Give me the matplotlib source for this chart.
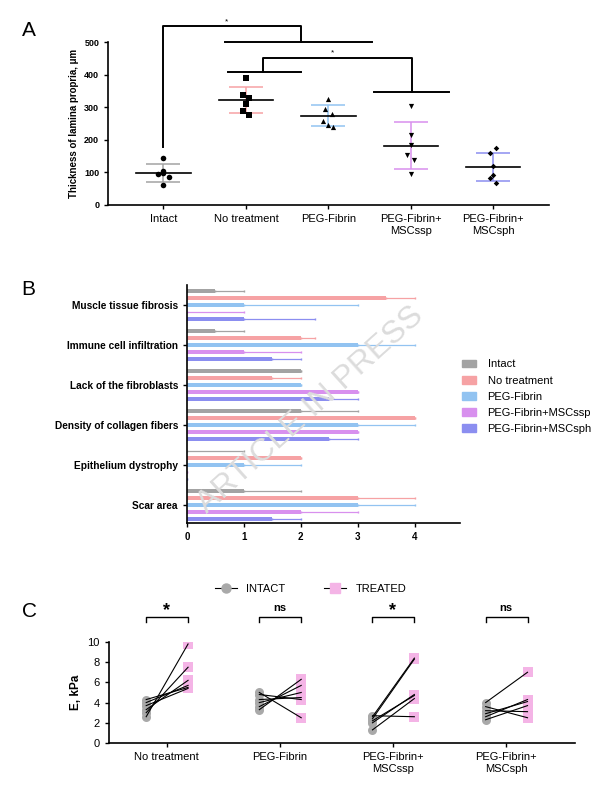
import numpy as np
import matplotlib.pyplot as plt
from matplotlib.patches import Patch
from matplotlib.lines import Line2D

plt.rcParams['font.family'] = ['Liberation Sans', 'DejaVu Sans']

# ---- panel A data ----
groups_a = ["Intact", "No treatment", "PEG-Fibrin", "PEG-Fibrin+\nMSCssp", "PEG-Fibrin+\nMSCsph"]
thickness = [
    [145, 105, 95, 97, 85, 60],
    [390, 338, 330, 310, 290, 275],
    [325, 295, 280, 258, 247, 238],
    [305, 215, 185, 155, 138, 95],
    [174, 159, 120, 92, 84, 67],
]
jitter = [
    [0, 0, -0.07, 0, 0.07, 0],
    [0, -0.04, 0.04, 0, -0.04, 0.04],
    [0, -0.04, 0.04, -0.07, 0, 0.06],
    [0, 0, 0, -0.05, 0.04, 0],
    [0.04, -0.04, 0, 0, -0.04, 0.04],
]
markers_a = ['o', 's', '^', 'v', 'D']
msize_a = [16, 14, 14, 14, 8]
colors = ['#a3a3a3', '#f6a2a4', '#92c3f1', '#d890ee', '#8b8ef0']

# ---- panel B data ----
features = ["Muscle tissue fibrosis", "Immune cell infiltration", "Lack of the fibroblasts",
            "Density of collagen fibers", "Epithelium dystrophy", "Scar area"]
series_b = ["Intact", "No treatment", "PEG-Fibrin", "PEG-Fibrin+MSCssp", "PEG-Fibrin+MSCsph"]
score_mean = [
    [0.5, 0.5, 2.0, 2.0, 0.0, 1.0],
    [3.5, 2.0, 1.5, 4.0, 2.0, 3.0],
    [1.0, 3.0, 2.0, 3.0, 1.0, 3.0],
    [0.0, 1.0, 3.0, 3.0, 0.0, 2.0],
    [1.0, 1.5, 2.5, 2.5, 0.0, 1.5],
]
score_err = [
    [0.5, 0.5, 0.0, 1.0, 1.0, 1.0],
    [0.5, 0.25, 0.5, 0.0, 0.0, 1.0],
    [2.0, 1.0, 0.0, 1.0, 1.0, 1.0],
    [1.0, 1.0, 0.0, 0.0, 0.0, 1.0],
    [1.25, 0.5, 0.5, 0.5, 0.0, 0.5],
]

# ---- panel C data ----
groups_c = ["No treatment", "PEG-Fibrin", "PEG-Fibrin+\nMSCssp", "PEG-Fibrin+\nMSCsph"]
e_intact = [
    [2.6, 3.0, 3.3, 4.3, 3.7, 4.0],
    [5.0, 4.8, 3.3, 3.6, 4.0, 4.3],
    [2.6, 2.4, 2.0, 2.2, 1.3, 2.7],
    [4.0, 3.6, 3.2, 2.9, 2.6, 2.3],
]
e_treated = [
    [9.8, 7.5, 6.2, 5.5, 5.4, 5.7],
    [2.5, 4.3, 6.3, 5.7, 5.0, 4.5],
    [8.4, 8.3, 4.8, 4.7, 4.4, 2.6],
    [7.0, 2.5, 3.1, 4.1, 4.3, 3.7],
]
signif_c = ["*", "ns", "*", "ns"]

fig = plt.figure(figsize=(6.15, 7.96), dpi=100)

# ================= A =================
ax = fig.add_axes([0.176, 0.7425, 0.717, 0.2045])
for i, vals in enumerate(thickness):
    vals = np.array(vals)
    xs = i + np.array(jitter[i])
    m, sd = vals.mean(), vals.std(ddof=1)
    ax.plot([i - 0.33, i + 0.33], [m, m], color='black', lw=1.2, zorder=3)
    ax.errorbar(i, m, yerr=sd, color=colors[i], capsize=12, lw=1.1, capthick=1.1, zorder=2)
    ax.scatter(xs, vals, marker=markers_a[i], s=msize_a[i], color='black', zorder=4, linewidths=0)
ax.set_xlim(-0.67, 4.68)
ax.set_ylim(0, 500)
ax.set_yticks([0, 100, 200, 300, 400, 500])
ax.set_xticks(range(5))
ax.set_xticklabels(groups_a, fontsize=8)
for lab in ax.get_yticklabels():
    lab.set_fontweight('bold')
    lab.set_fontsize(6.5)
ax.set_ylabel("Thickness of lamina propria, μm", fontsize=7, fontweight='bold')
ax.spines['top'].set_visible(False)
ax.spines['right'].set_visible(False)
ax.tick_params(length=3, width=1)
for s in ['left', 'bottom']:
    ax.spines[s].set_linewidth(1.2)

bk = dict(color='black', lw=1.4, clip_on=False)
ax.plot([0, 0, 1.67, 1.67], [178, 549, 549, 500], **bk)
ax.plot([0.75, 2.53], [500, 500], **bk)
ax.text(0.77, 553, "*", ha='center', va='bottom', fontsize=6)
ax.plot([0.78, 1.67], [408, 408], **bk)
ax.plot([1.21, 1.21, 3.02, 3.02], [408, 452, 452, 347], **bk)
ax.plot([2.55, 3.47], [347, 347], **bk)
ax.text(2.05, 456, "*", ha='center', va='bottom', fontsize=6)

fig.text(0.035, 0.955, "A", fontsize=15)

# ================= B =================
axb = fig.add_axes([0.304, 0.343, 0.444, 0.299])
ycent = np.arange(len(features))
offs = (np.arange(5) - 2) * 0.175
for j in range(5):
    ypos = ycent + offs[j]
    axb.barh(ypos, score_mean[j], height=0.12, color=colors[j], label=series_b[j], zorder=2)
    axb.errorbar(score_mean[j], ypos, xerr=[np.zeros(6), score_err[j]], fmt='none',
                 ecolor=colors[j], elinewidth=0.9, capsize=1, zorder=1)
axb.set_ylim(5.45, -0.5)
axb.set_xlim(0, 4.8)
axb.set_yticks(ycent)
axb.set_yticklabels(features, fontsize=7.3, fontweight='bold')
axb.set_xticks([0, 1, 2, 3, 4])
for lab in axb.get_xticklabels():
    lab.set_fontweight('bold')
    lab.set_fontsize(7)
axb.spines['top'].set_visible(False)
axb.spines['right'].set_visible(False)
for s in ['left', 'bottom']:
    axb.spines[s].set_linewidth(1.2)
axb.tick_params(length=3, width=1)
handles = [Patch(color=c, label=l) for c, l in zip(colors, series_b)]
fig.legend(handles=handles, loc='upper left', bbox_to_anchor=(0.735, 0.561), frameon=False,
           fontsize=8, handlelength=1.3, handleheight=0.7, labelspacing=0.55, handletextpad=1.0)
fig.text(0.505, 0.485, "ARTICLE IN PRESS", rotation=42, fontsize=23, color='#dcdcdc',
         ha='center', va='center', fontweight='light')
fig.text(0.035, 0.63, "B", fontsize=15)

# ================= C =================
axc = fig.add_axes([0.177, 0.0666, 0.758, 0.1269])
pink = '#f4b4e6'
for i in range(4):
    for a, b in zip(e_intact[i], e_treated[i]):
        axc.plot([i - 0.18, i + 0.19], [a, b], color='black', lw=0.8, zorder=3)
    axc.scatter(np.full(6, i - 0.18), e_intact[i], s=42, color='#a9a9a9', zorder=2, linewidths=0)
    axc.scatter(np.full(6, i + 0.19), e_treated[i], s=55, marker='s', color=pink, zorder=2, linewidths=0)
    axc.plot([i - 0.18, i - 0.18, i + 0.19, i + 0.19], [12.0, 12.5, 12.5, 12.0],
             color='black', lw=1.0, clip_on=False)
    if signif_c[i] == "*":
        axc.text(i, 12.3, "*", ha='center', va='bottom', fontsize=13, fontweight='bold')
    else:
        axc.text(i, 12.9, "ns", ha='center', va='bottom', fontsize=8, fontweight='bold')
axc.set_xlim(-0.51, 3.61)
axc.set_ylim(0, 10)
axc.set_yticks([0, 2, 4, 6, 8, 10])
axc.set_xticks(range(4))
axc.set_xticklabels(groups_c, fontsize=8)
axc.tick_params(labelsize=8, length=3, width=1)
axc.set_ylabel("E, kPa", fontsize=8.5, fontweight='bold')
axc.spines['top'].set_visible(False)
axc.spines['right'].set_visible(False)
for s in ['left', 'bottom']:
    axc.spines[s].set_linewidth(1.2)
leg_handles = [Line2D([0], [0], color='black', lw=0.8, marker='o', markersize=6.5,
                      markerfacecolor='#a9a9a9', markeredgecolor='#a9a9a9'),
               Line2D([0], [0], color='black', lw=0.8, marker='s', markersize=6.5,
                      markerfacecolor=pink, markeredgecolor=pink)]
fig.legend(leg_handles, ["INTACT", "TREATED"], loc='center', bbox_to_anchor=(0.505, 0.26),
           ncol=2, frameon=False, fontsize=8, columnspacing=3.5, handlelength=2)
fig.text(0.035, 0.225, "C", fontsize=15)

fig.savefig("out.png", dpi=100)
